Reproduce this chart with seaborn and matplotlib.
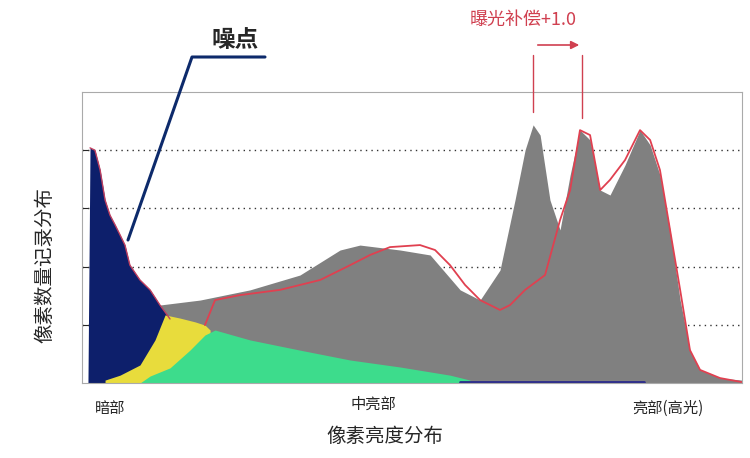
import numpy as np
import pandas as pd
import matplotlib.pyplot as plt
import seaborn as sns
from matplotlib.lines import Line2D
from matplotlib.patches import FancyArrowPatch

sns.set_style("white")
plt.rcParams['font.family'] = ['Noto Sans CJK SC', 'DejaVu Sans']

# brightness (0-255) / relative pixel count
gray_x = [26.3, 30.1, 45.6, 64.9, 84.2, 99.7, 107.4, 122.9, 134.5, 146.1, 153.8, 161.5, 167.3, 171.2,
          174.3, 177.0, 180.8, 184.7, 188.6, 192.4, 196.3, 200.2, 204.0, 209.8, 215.6, 219.5, 223.3,
          227.2, 231.1, 234.9, 238.8, 246.5, 255.0]
gray_y = [32, 26.8, 28.5, 32, 37.1, 45.7, 47.4, 45.7, 44, 32, 28.5, 38.8, 62.9, 80.1,
          88.7, 85.2, 62.9, 52.6, 71.5, 86.9, 83.5, 66.3, 64.6, 74.9, 86.9, 81.8, 71.5,
          52.6, 28.5, 11.3, 4.5, 1.7, 1.0]

red_x = [47.5, 51.4, 61.0, 76.5, 92.0, 103.6, 111.3, 119.0, 130.6, 136.4, 142.2, 148.0, 153.8, 161.5,
         165.4, 171.2, 178.9, 184.7, 188.6, 192.4, 196.3, 200.2, 204.0, 209.8, 215.6, 219.5, 223.3,
         227.2, 231.1, 234.9, 238.8, 246.5, 255.0]
red_y = [19.9, 28.5, 30.2, 32, 35.4, 40.5, 44, 46.7, 47.4, 45.7, 40.5, 33.7, 28.5, 25.1,
         26.8, 32, 37.1, 56, 66.3, 86.9, 85.2, 66.3, 69.8, 76.6, 86.9, 83.5, 73.2,
         52.6, 32, 11.3, 4.5, 1.7, 0.3]

noise_x = [2.3, 3.1, 5.0, 7.0, 8.9, 10.8, 12.8, 14.7, 16.6, 18.5, 22.4, 26.3, 30.1, 32.1, 34.0]
noise_y = [0, 80.8, 80, 73.2, 62.9, 57.7, 54.3, 50.9, 47.4, 40.5, 35.4, 32, 26.8, 24.4, 22.0]

yellow_x = [8.9, 14.7, 22.4, 28.2, 32.1, 37.9, 43.7, 47.5, 49.5]
yellow_y = [1, 2.7, 6.2, 14.8, 23.4, 22.3, 21, 19.9, 18.2]

green_x = [22.4, 26.3, 34.0, 41.7, 47.5, 51.4, 64.9, 84.2, 103.6, 122.9, 142.2, 149.9]
green_y = [0, 2.4, 5.2, 11.3, 16.5, 18.2, 14.8, 11.3, 7.9, 5.5, 2.7, 1.0]

fig = plt.figure(figsize=(7.5, 4.58), dpi=100)
ax = fig.add_axes([82/750, 75/458, 660/750, 291/458])

ax.fill_between(gray_x, gray_y, color='#808080', lw=0)
ax.fill_between(noise_x, noise_y, color='#0d1f6b', lw=0)
ax.plot(noise_x[1:], noise_y[1:], color='#c04060', lw=1)
ax.fill_between(yellow_x, yellow_y, color='#e8dc3c', lw=0)
ax.fill_between(green_x, green_y, color='#3ddc8c', lw=0)
df_red = pd.DataFrame({'x': red_x, 'y': red_y})
sns.lineplot(data=df_red, x='x', y='y', ax=ax, color='#e04050', lw=1.3)
ax.plot([146, 217], [0.3, 0.3], color='#2a2a8a', lw=2)

ax.set_xlim(0, 255)
ax.set_ylim(0, 100)
ax.set_yticks([20, 40, 60, 80])
ax.set_yticklabels([])
ax.set_xticks([])
ax.set_xlabel('')
ax.set_ylabel('')
ax.tick_params(axis='y', length=4, direction='in', left=True)
ax.grid(axis='y', color='#333333', ls=(0, (1, 3)), lw=1)
for s in ax.spines.values():
    s.set_color('#aaaaaa')

def fx(px): return px / 750
def fy(py): return 1 - py / 458

fig.text(fx(110), fy(408), '暗部', ha='center', va='center', fontsize=11)
fig.text(fx(373), fy(404), '中亮部', ha='center', va='center', fontsize=11)
fig.text(fx(668), fy(408), '亮部(高光)', ha='center', va='center', fontsize=11)
fig.text(fx(385), fy(437), '像素亮度分布', ha='center', va='center', fontsize=14)
fig.text(fx(45), fy(265), '像素数量记录分布', ha='center', va='center', fontsize=14, rotation=90)
fig.text(fx(235), fy(40), '噪点', ha='center', va='center', fontsize=17, fontweight='bold')
fig.text(fx(523), fy(20), '曝光补偿+1.0', ha='center', va='center', fontsize=13, color='#d04050')

fig.add_artist(Line2D([fx(265), fx(192), fx(128)], [fy(57), fy(57), fy(240)], color='#0d2a6b', lw=2.2))
fig.add_artist(Line2D([fx(533), fx(533)], [fy(55), fy(112)], color='#d04050', lw=1))
fig.add_artist(Line2D([fx(582), fx(582)], [fy(55), fy(118)], color='#d04050', lw=1))
fig.add_artist(FancyArrowPatch((fx(535), fy(45)), (fx(582), fy(45)), transform=fig.transFigure,
                               arrowstyle='-|>', mutation_scale=12, color='#d04050', lw=1.2))

fig.savefig('out.png', dpi=100)
